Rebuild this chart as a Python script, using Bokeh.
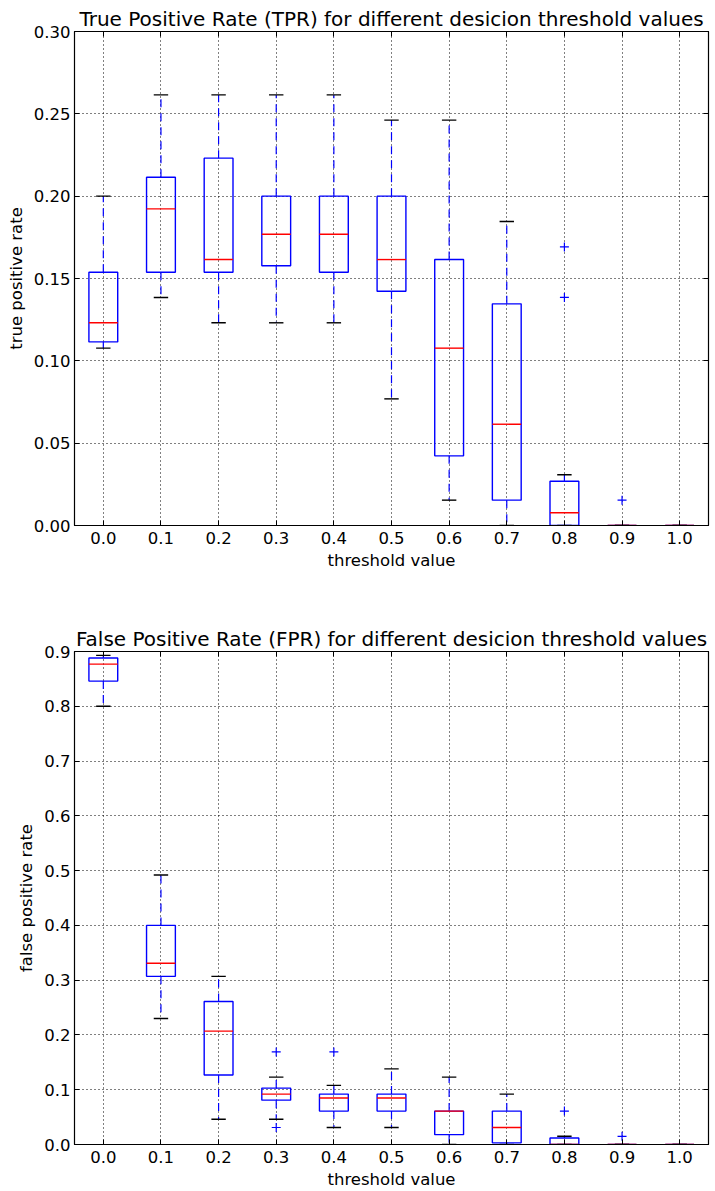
from bokeh.plotting import figure
from bokeh.layouts import column
from bokeh.models import Range1d, FixedTicker, LinearAxis, PrintfTickFormatter
from bokeh.embed import file_html
from bokeh.resources import INLINE

# Decision thresholds (one box per threshold)
thresholds = ["0.0", "0.1", "0.2", "0.3", "0.4", "0.5", "0.6", "0.7", "0.8", "0.9", "1.0"]

# True positive rate: box-plot summary per threshold
tpr_lower = [0.1077, 0.1385, 0.1231, 0.1231, 0.1231, 0.0769, 0.0154, 0.0, 0.0, 0.0, 0.0]
tpr_q1 = [0.1115, 0.1538, 0.1538, 0.1577, 0.1538, 0.1423, 0.0423, 0.0154, 0.0, 0.0, 0.0]
tpr_median = [0.1231, 0.1923, 0.1615, 0.1769, 0.1769, 0.1615, 0.1077, 0.0615, 0.0077, 0.0, 0.0]
tpr_q3 = [0.1538, 0.2115, 0.2231, 0.2000, 0.2000, 0.2000, 0.1615, 0.1346, 0.0269, 0.0, 0.0]
tpr_upper = [0.2000, 0.2615, 0.2615, 0.2615, 0.2615, 0.2462, 0.2462, 0.1846, 0.0308, 0.0, 0.0]
tpr_outliers = [[], [], [], [], [], [], [], [], [0.1692, 0.1385], [0.0154], []]
tpr_yticks = [0.0, 0.05, 0.10, 0.15, 0.20, 0.25, 0.30]

# False positive rate: box-plot summary per threshold
fpr_lower = [0.800, 0.230, 0.046, 0.046, 0.031, 0.031, 0.0, 0.0, 0.0, 0.0, 0.0]
fpr_q1 = [0.846, 0.307, 0.127, 0.081, 0.061, 0.061, 0.018, 0.003, 0.0, 0.0, 0.0]
fpr_median = [0.877, 0.331, 0.207, 0.092, 0.085, 0.085, 0.061, 0.031, 0.0, 0.0, 0.0]
fpr_q3 = [0.888, 0.400, 0.261, 0.103, 0.092, 0.092, 0.061, 0.061, 0.012, 0.0, 0.0]
fpr_upper = [0.893, 0.492, 0.307, 0.123, 0.108, 0.138, 0.123, 0.092, 0.015, 0.0, 0.0]
fpr_outliers = [[], [], [], [0.169, 0.031], [0.169], [], [], [], [0.061], [0.015], []]
fpr_yticks = [0.0, 0.1, 0.2, 0.3, 0.4, 0.5, 0.6, 0.7, 0.8, 0.9]

FONT = "DejaVu Sans"
BOX_W = 0.5
CAP_W = 0.25


def style_axis(ax, show_labels=True):
    ax.major_tick_in = 5
    ax.major_tick_out = 0
    ax.minor_tick_in = 0
    ax.minor_tick_out = 0
    ax.axis_line_color = "black"
    ax.major_tick_line_color = "black"
    ax.major_label_text_font = FONT
    ax.major_label_text_font_size = "16.5px"
    ax.major_label_text_color = "black"
    ax.axis_label_text_font = FONT
    ax.axis_label_text_font_size = "16.5px"
    ax.axis_label_text_font_style = "normal"
    ax.axis_label_text_color = "black"
    if not show_labels:
        ax.major_label_text_font_size = "0px"
        ax.major_label_text_alpha = 0


def boxplot(title, ylabel, ymax, yticks, yfmt, lower, q1, med, q3, upper, outliers,
            height, border_top, border_bottom):
    pos = list(range(1, len(thresholds) + 1))
    p = figure(width=715, height=height, output_backend="svg", toolbar_location=None,
               x_range=Range1d(0.5, len(thresholds) + 0.5), y_range=Range1d(0, ymax),
               min_border_left=74, min_border_right=7,
               min_border_top=border_top, min_border_bottom=border_bottom,
               x_axis_location=None, y_axis_location=None)
    p.title.text = title
    p.title.text_font = FONT
    p.title.text_font_size = "20px"
    p.title.text_font_style = "normal"
    p.title.text_color = "black"
    p.title.align = "center"
    p.title.offset = 4
    p.title.standoff = 2
    p.outline_line_color = "black"
    p.outline_line_width = 1.2
    p.background_fill_color = "white"
    p.border_fill_color = "white"

    xticker = FixedTicker(ticks=pos)
    yticker = FixedTicker(ticks=yticks)
    overrides = {i: t for i, t in zip(pos, thresholds)}

    xb = LinearAxis(ticker=xticker, axis_label="threshold value",
                    major_label_overrides=overrides)
    style_axis(xb)
    xb.major_label_standoff = 6
    xb.axis_label_standoff = 4
    p.add_layout(xb, "below")

    xt = LinearAxis(ticker=xticker)
    style_axis(xt, show_labels=False)
    p.add_layout(xt, "above")

    yl = LinearAxis(ticker=yticker, axis_label=ylabel,
                    formatter=PrintfTickFormatter(format=yfmt))
    style_axis(yl)
    yl.major_label_standoff = 4
    yl.axis_label_standoff = 5
    p.add_layout(yl, "left")

    yr = LinearAxis(ticker=yticker)
    style_axis(yr, show_labels=False)
    p.add_layout(yr, "right")

    for g in (p.xgrid, p.ygrid):
        g.grid_line_color = "black"
        g.grid_line_dash = "1 3"
        g.grid_line_width = 1
    p.xgrid.ticker = xticker
    p.ygrid.ticker = yticker

    left = [x - BOX_W / 2 for x in pos]
    right = [x + BOX_W / 2 for x in pos]
    cl = [x - CAP_W / 2 for x in pos]
    cr = [x + CAP_W / 2 for x in pos]

    # whiskers
    p.segment(x0=pos, x1=pos, y0=q3, y1=upper, line_color="blue", line_width=1.2,
              line_dash="8 6")
    p.segment(x0=pos, x1=pos, y0=q1, y1=lower, line_color="blue", line_width=1.2,
              line_dash="8 6")
    # caps
    p.segment(x0=cl, x1=cr, y0=upper, y1=upper, line_color="black", line_width=1.4)
    p.segment(x0=cl, x1=cr, y0=lower, y1=lower, line_color="black", line_width=1.4)
    # boxes
    p.quad(left=left, right=right, bottom=q1, top=q3, fill_color=None,
           line_color="blue", line_width=1.4)
    # medians
    p.segment(x0=left, x1=right, y0=med, y1=med, line_color="red", line_width=1.4)
    # fliers
    fx = [x for x, vals in zip(pos, outliers) for _ in vals]
    fy = [v for vals in outliers for v in vals]
    p.scatter(x=fx, y=fy, marker="cross", size=9, line_color="blue", line_width=1.2)
    return p


p1 = boxplot("True Positive Rate (TPR) for different desicion threshold values",
             "true positive rate", 0.30, tpr_yticks, "%.2f",
             tpr_lower, tpr_q1, tpr_median, tpr_q3, tpr_upper, tpr_outliers,
             height=595, border_top=31, border_bottom=70)
p2 = boxplot("False Positive Rate (FPR) for different desicion threshold values",
             "false positive rate", 0.9, fpr_yticks, "%.1f",
             fpr_lower, fpr_q1, fpr_median, fpr_q3, fpr_upper, fpr_outliers,
             height=596, border_top=56, border_bottom=46)

layout = column(p1, p2, spacing=0)
open("out.html", "w").write(file_html(layout, INLINE))
